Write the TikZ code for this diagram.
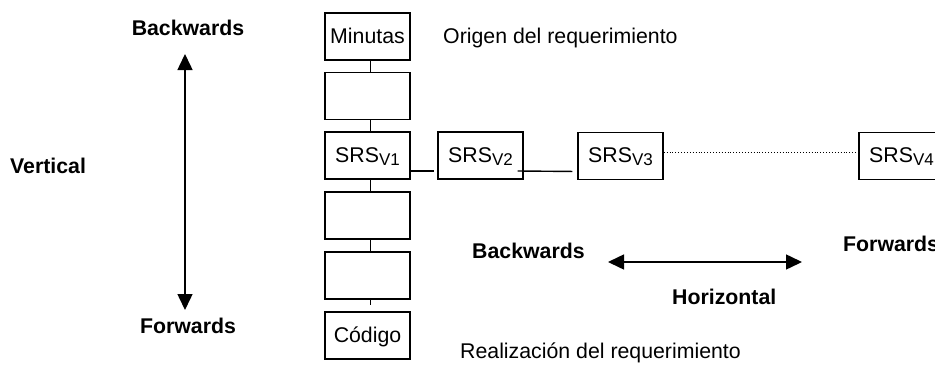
\documentclass[tikz,border=0pt]{standalone}
\usepackage{fontspec}
\setmainfont{Liberation Sans}
\usetikzlibrary{arrows.meta}
\newcommand{\srsv}[1]{SRS\raisebox{-3pt}{\fontsize{17}{17}\selectfont V#1}}
\begin{document}
\begin{tikzpicture}[x=1pt,y=-1pt,
  font=\fontsize{21.3}{24}\selectfont,
  box/.style={draw,line width=1.4pt,minimum width=85pt,minimum height=47pt,inner sep=0pt,text height=13pt,text depth=0pt},
  lbl/.style={inner sep=0pt,anchor=base},
  link/.style={line width=1.4pt},
  dotlink/.style={line width=0.9pt,dotted},
  dbl/.style={line width=1.5pt,{Triangle[length=16pt,width=15pt]}-{Triangle[length=16pt,width=15pt]}}]
\useasboundingbox (0,0) rectangle (935,367);
\fill[white] (0,0) rectangle (935,367);
% boxes
\node[box] (m)  at (367.5,36.5)  {Minutas};
\node[box] (b2) at (367.5,96)    {};
\node[box] (v1) at (367.5,155.5) {\srsv1};
\node[box] (b4) at (367.5,215.5) {};
\node[box] (b5) at (367.5,275.5) {};
\node[box] (c)  at (367.5,335.5) {Código};
\node[box] (v2) at (480.5,155.5) {\srsv2};
\node[box] (v3) at (620.5,156)   {\srsv3};
\node[box] (v4) at (901.5,156)   {\srsv4};
% vertical links
\draw[link] ([xshift=3pt]m.south)  -- ([xshift=3pt]b2.north);
\draw[link] ([xshift=3pt]b2.south) -- ([xshift=3pt]v1.north);
\draw[link] ([xshift=3pt]v1.south) -- ([xshift=3pt]b4.north);
\draw[link] ([xshift=3pt]b4.south) -- ([xshift=3pt]b5.north);
\draw[link,shorten >=6pt] ([xshift=3pt]b5.south) -- ([xshift=3pt]c.north);
% horizontal links
\draw[link,shorten >=3pt] ([yshift=-15.5pt]v1.east) -- ([yshift=-15.5pt]v2.west);
\draw[link,shorten >=5pt] ([xshift=-6pt,yshift=-15.5pt]v2.east) -- ([yshift=-15.5pt]v3.west);
\draw[dotlink] ([yshift=4pt]v3.east) -- ([yshift=4pt]v4.west);
% labels
\node[lbl] (bv) at (188,35) {\bfseries Backwards};
\node[lbl] (fv) at (188,333) {\bfseries Forwards};
\node[lbl,anchor=base west] (vt) at (10,173) {\bfseries Vertical};
\node[lbl,anchor=base west] (bh) at (472,258) {\bfseries Backwards};
\node[lbl,anchor=base west] (fh) at (843,251) {\bfseries Forwards};
\node[lbl,anchor=base west] (ht) at (672,304) {\bfseries Horizontal};
\node[lbl,anchor=base west] (o) at (443,43) {Origen del requerimiento};
\node[lbl,anchor=base west] (r) at (460,358) {Realización del requerimiento};
% arrows
\coordinate (vtop) at (185,54);
\coordinate (vbot) at (185,310);
\coordinate (hl) at (608,262);
\coordinate (hr) at (802,262);
\draw[dbl] (vtop) -- (vbot);
\draw[dbl] (hl) -- (hr);
\end{tikzpicture}
\end{document}
